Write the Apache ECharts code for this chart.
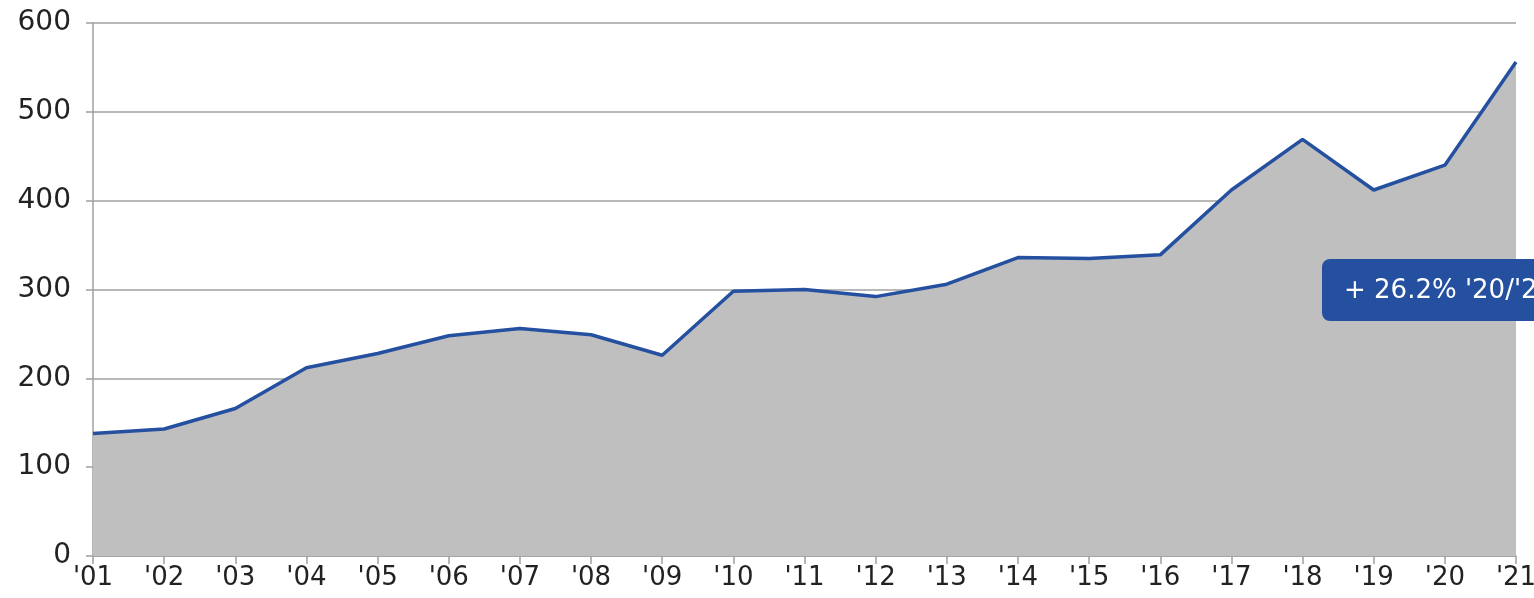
<!DOCTYPE html>
<html>
<head>
<meta charset="utf-8">
<script src="https://cdn.jsdelivr.net/npm/echarts@6/dist/echarts.min.js"></script>
<style>html,body{margin:0;padding:0;background:#fff;}#c{width:1534px;height:598px;}</style>
</head>
<body>
<div id="c"></div>
<script>
const categories = ["'01","'02","'03","'04","'05","'06","'07","'08","'09","'10","'11","'12","'13","'14","'15","'16","'17","'18","'19","'20","'21"];
const values = [138, 143, 166, 212, 228, 248, 256, 249, 226, 298, 300, 292, 306, 336, 335, 339, 412, 469, 412, 440, 556];
const yTicks = [0, 100, 200, 300, 400, 500, 600];
const labelText = "+ 26.2% '20/'21";

const chart = echarts.init(document.getElementById('c'));
chart.setOption({
  animation: false,
  grid: { left: 93, right: 18, top: 23, bottom: 42, containLabel: false, outerBoundsMode: 'none' },
  xAxis: {
    type: 'category',
    data: categories,
    boundaryGap: false,
    axisLine: { show: true, lineStyle: { color: '#a0a0a0', width: 1.5 } },
    axisTick: { show: true, alignWithLabel: true, length: 8, lineStyle: { color: '#a0a0a0', width: 1.5 } },
    axisLabel: { color: '#222222', fontSize: 26, fontFamily: 'DejaVu Sans', margin: 9, interval: 0, hideOverlap: false },
    splitLine: { show: false }
  },
  yAxis: {
    type: 'value',
    min: 0, max: 600, interval: 100,
    axisLine: { show: true, lineStyle: { color: '#a0a0a0', width: 1.5 } },
    axisTick: { show: true, length: 7, lineStyle: { color: '#a0a0a0', width: 1.5 } },
    axisLabel: { color: '#222222', fontSize: 28, fontFamily: 'DejaVu Sans', margin: 22,
      formatter: v => yTicks.includes(v) ? String(v) : '' },
    splitLine: { show: true, lineStyle: { color: '#a0a0a0', width: 1.5 } }
  },
  series: [{
    type: 'line',
    data: values,
    symbol: 'none',
    lineStyle: { color: '#2550a0', width: 3.5 },
    areaStyle: { color: '#bfbfbf', opacity: 1 },
    z: 3
  }],
  graphic: {
    elements: [
      { type: 'rect', z: 100, shape: { x: 1322, y: 259, width: 260, height: 62, r: 8 }, style: { fill: '#2550a0' } },
      { type: 'text', z: 101, style: { x: 1344, y: 291, text: labelText, fill: '#ffffff', font: '26px "DejaVu Sans"', verticalAlign: 'middle' } }
    ]
  }
});
</script>
</body>
</html>
